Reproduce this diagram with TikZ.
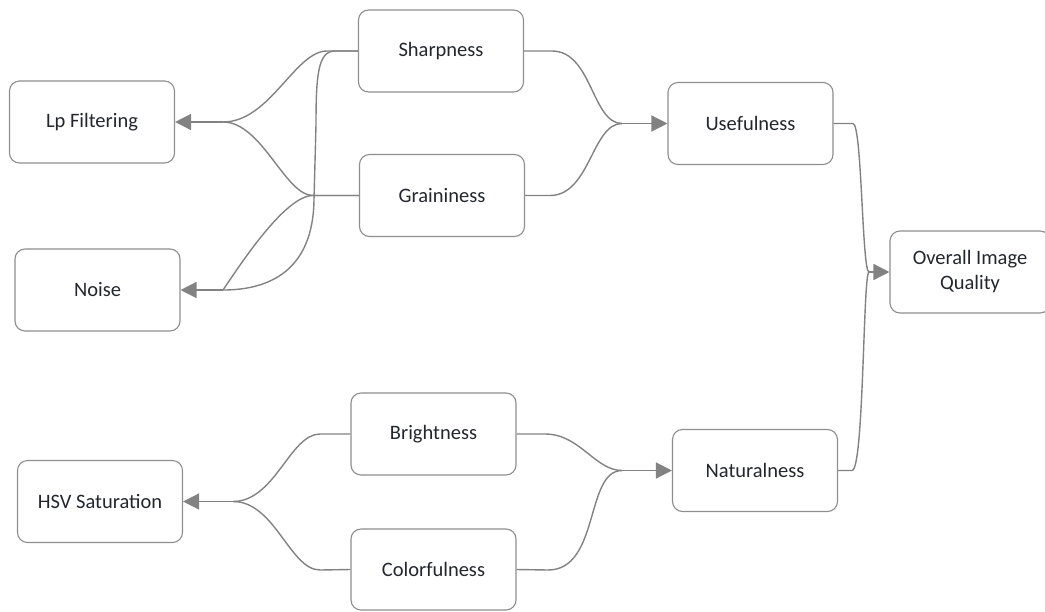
\documentclass[tikz,border=0pt]{standalone}
\usepackage{fontspec}
\setmainfont{Carlito}
\usetikzlibrary{arrows.meta}
\definecolor{boxline}{HTML}{8E8E8E}
\definecolor{wire}{HTML}{828282}
\definecolor{ink}{HTML}{23262C}
\tikzset{
  box/.style={draw=boxline, line width=1.1pt, rounded corners=10pt,
    minimum width=165pt, minimum height=82pt, inner sep=2pt,
    align=center, text=ink, font=\fontsize{20.5}{25}\selectfont},
  wirepath/.style={draw=wire, line width=1.4pt},
  arrowpath/.style={wirepath, -{Triangle[length=16pt,width=16pt]}}
}
\begin{document}
\begin{tikzpicture}[x=1pt, y=-1pt]
\useasboundingbox (0,0) rectangle (1045,611);

% boxes
\node[box] (lp)      at (92,122)     {Lp Filtering};
\node[box] (noise)   at (97.5,290)   {Noise};
\node[box] (sharp)   at (441,51)     {Sharpness};
\node[box] (grain)   at (442,195.5)  {Graininess};
\node[box] (useful)  at (750.5,123.5){Usefulness};
\node[box, minimum width=160pt] (overall) at (970,272) {Overall Image\\Quality};
\node[box] (bright)  at (433.5,434)  {Brightness};
\node[box, minimum height=81pt] (color) at (433.5,569.5) {Colorfulness};
\node[box] (hsv)     at (100,501.5)  {HSV Saturation};
\node[box] (natural) at (755,470.5)  {Naturalness};

% junction points where branches join
\coordinate (jlp)      at (223,122);
\coordinate (jnoise)   at (223,290);
\coordinate (juseful)  at (622,123.5);
\coordinate (jnatural) at (622,470.5);
\coordinate (jhsv)     at (233,501.5);
\coordinate (joverall) at (869,272);

% Sharpness / Graininess -> Lp Filtering and Noise
\path[wirepath] (sharp.west) -- (327,51)
  .. controls (295,51) and (270,122) .. (jlp);
\path[wirepath] (sharp.west) -- (335,51)
  .. controls (318,51) and (316,75) .. (316,125) -- (314,200)
  .. controls (313,270) and (270,290) .. (jnoise);
\path[wirepath] (grain.west) -- (313,195.5)
  .. controls (285,195.5) and (262,122) .. (jlp);
\path[wirepath] (grain.west) -- (313,195.5)
  .. controls (285,195.5) and (240,265) .. (jnoise);
\path[arrowpath] (jlp) -- (lp.east);
\path[arrowpath] (jnoise) -- (noise.east);

% Sharpness / Graininess -> Usefulness
\path[wirepath] (sharp.east) -- (552,51)
  .. controls (592,51) and (592,123.5) .. (juseful);
\path[wirepath] (grain.east) -- (550,195.5)
  .. controls (590,195.5) and (592,123.5) .. (juseful);
\path[arrowpath] (juseful) -- (useful.west);

% Brightness / Colorfulness -> Naturalness
\path[wirepath] (bright.east) -- (545,434)
  .. controls (580,434) and (595,470.5) .. (jnatural);
\path[wirepath] (color.east) -- (548,570)
  .. controls (600,570) and (585,470.5) .. (jnatural);
\path[arrowpath] (jnatural) -- (natural.west);

% Brightness / Colorfulness -> HSV Saturation
\path[wirepath] (bright.west) -- (320,434)
  .. controls (290,434) and (275,501.5) .. (jhsv);
\path[wirepath] (color.west) -- (320,570)
  .. controls (290,570) and (275,501.5) .. (jhsv);
\path[arrowpath] (jhsv) -- (hsv.east);

% Usefulness / Naturalness -> Overall Image Quality
\path[wirepath] (useful.east) -- (853,123.5)
  .. controls (862,123.5) and (862,272) .. (joverall);
\path[wirepath] (natural.east) -- (852,470.5)
  .. controls (864,470.5) and (863,272) .. (joverall);
\path[arrowpath] (joverall) -- (overall.west);
\end{tikzpicture}
\end{document}
